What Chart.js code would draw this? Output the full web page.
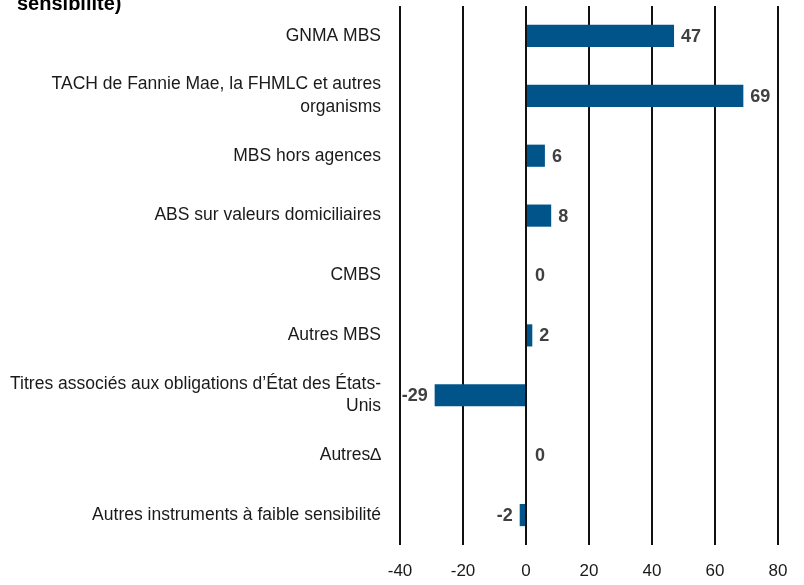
<!DOCTYPE html>
<html>
<head>
<meta charset="utf-8">
<script src="https://cdn.jsdelivr.net/npm/chart.js@4/dist/chart.umd.min.js"></script>
<style>
  body { margin: 0; background: #fff; }
  #wrap { position: relative; width: 804px; height: 585px; overflow: hidden; }
  #title {
    position: absolute; left: 17px; top: -7px;
    font: bold 20px "Liberation Sans", Arial, sans-serif; line-height: 20px; color: #000;
  }
</style>
</head>
<body>
<div id="wrap">
  <canvas id="myChart" width="804" height="585"></canvas>
  <div id="title">sensibilité)</div>
</div>
<script>
// data
const categories = [
  "GNMA MBS",
  ["TACH de Fannie Mae, la FHMLC et autres", "organisms"],
  "MBS hors agences",
  "ABS sur valeurs domiciliaires",
  "CMBS",
  "Autres MBS",
  ["Titres associés aux obligations d’État des États-", "Unis"],
  "Autres∆",
  "Autres instruments à faible sensibilité",
];
const values = [47, 69, 6, 8, 0, 2, -29, 0, -2];
const xTicks = [-40, -20, 0, 20, 40, 60, 80];

const font = "'Liberation Sans', Arial, sans-serif";

// value labels next to the bars
const barLabels = {
  id: "barLabels",
  afterDatasetsDraw(chart) {
    const ctx = chart.ctx;
    const meta = chart.getDatasetMeta(0);
    ctx.save();
    ctx.font = "bold 18px " + font;
    ctx.fillStyle = "#404040";
    ctx.textBaseline = "middle";
    meta.data.forEach((bar, i) => {
      const v = values[i];
      if (v < 0) {
        ctx.textAlign = "right";
        ctx.fillText(String(v), bar.x - 7, bar.y + 1);
      } else {
        ctx.textAlign = "left";
        ctx.fillText(String(v), bar.x + (v === 0 ? 9 : 7), bar.y + 1);
      }
    });
    ctx.restore();
  },
};

new Chart(document.getElementById("myChart"), {
  type: "bar",
  data: {
    labels: categories,
    datasets: [
      {
        data: values,
        backgroundColor: "#01548a",
        barPercentage: 0.37,
        categoryPercentage: 1,
      },
    ],
  },
  options: {
    indexAxis: "y",
    responsive: false,
    animation: false,
    layout: {
      padding: { top: 6, right: 26, bottom: 0, left: 0 },
    },
    plugins: {
      legend: { display: false },
      tooltip: { enabled: false },
    },
    scales: {
      x: {
        min: xTicks[0],
        max: xTicks[xTicks.length - 1],
        afterBuildTicks: (scale) => {
          scale.ticks = xTicks.map((v) => ({ value: v }));
        },
        afterFit: (scale) => {
          scale.height = 40;
        },
        border: { display: false },
        grid: {
          color: "#111",
          lineWidth: 2,
          drawTicks: false,
        },
        ticks: {
          padding: 16,
          color: "#1a1a1a",
          font: { family: font, size: 17 },
        },
      },
      y: {
        afterFit: (scale) => {
          scale.width = 400;
          scale.paddingTop = 0;
          scale.paddingBottom = 0;
        },
        border: { display: false },
        grid: { display: false },
        ticks: {
          padding: 11,
          color: "#1a1a1a",
          font: { family: font, size: 17.5, lineHeight: 1.3 },
        },
      },
    },
  },
  plugins: [barLabels],
});
</script>
</body>
</html>
